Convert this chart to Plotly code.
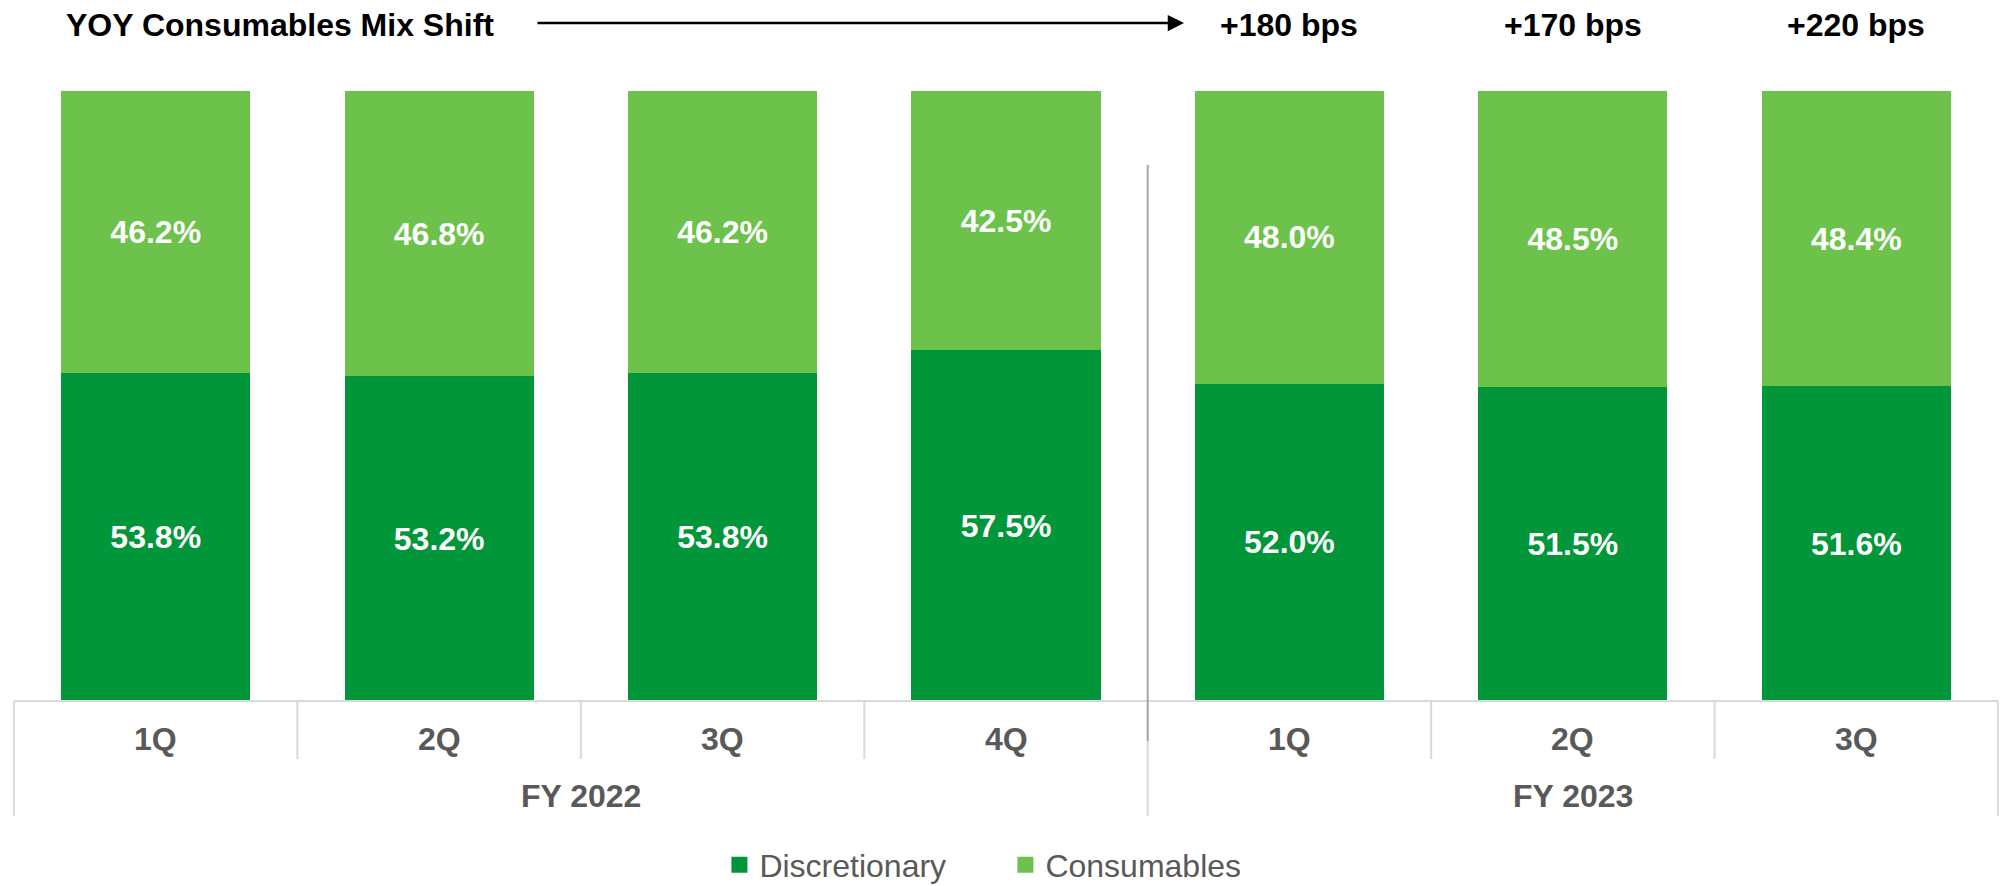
import plotly.graph_objects as go

quarters = ["1Q", "2Q", "3Q", "4Q", "1Q", "2Q", "3Q"]
years = ["FY 2022", "FY 2022", "FY 2022", "FY 2022", "FY 2023", "FY 2023", "FY 2023"]
discretionary = [53.8, 53.2, 53.8, 57.5, 52.0, 51.5, 51.6]
consumables = [46.2, 46.8, 46.2, 42.5, 48.0, 48.5, 48.4]
mix_shift = ["", "", "", "", "+180 bps", "+170 bps", "+220 bps"]
title_text = "YOY Consumables Mix Shift"

cats = [f"{q} {y}" for q, y in zip(quarters, years)]
n = len(cats)

DARK = "#009639"
LIGHT = "#6CC24A"
GRAY_TXT = "#595959"
AXIS = "#D9D9D9"
FONT = "Liberation Sans, Arial, sans-serif"
FS = 32

fig = go.Figure()
for name, vals, col in [("Discretionary", discretionary, DARK), ("Consumables", consumables, LIGHT)]:
    fig.add_trace(go.Bar(
        x=cats, y=vals, name=name, marker=dict(color=col, line=dict(width=0)),
        text=[f"{v:.1f}%" for v in vals], textposition="inside", insidetextanchor="middle",
        textfont=dict(color="white", size=FS, family=FONT, weight="bold"), textangle=0,
        hoverinfo="skip", showlegend=False))
# legend entries (square swatches)
for name, col in [("Discretionary", DARK), ("Consumables", LIGHT)]:
    fig.add_trace(go.Scatter(x=[None], y=[None], mode="markers", name=name,
                             marker=dict(symbol="square", size=16, color=col),
                             hoverinfo="skip", showlegend=True))

H_PLOT = 610.0
def py(p):
    # pixel row -> paper y
    return (701.0 - p) / H_PLOT

shapes = []
shapes.append(dict(type="line", xref="paper", yref="paper", x0=0, x1=1, y0=0, y1=0,
                   line=dict(color=AXIS, width=2)))
for k in range(n + 1):
    is_group = k == 0 or k == n or (0 < k < n and years[k] != years[k - 1])
    y_end = py(816) if is_group else py(759)
    shapes.append(dict(type="line", xref="paper", yref="paper", x0=k / n, x1=k / n,
                       y0=0, y1=y_end, line=dict(color=AXIS, width=2)))
for k in range(1, n):
    if years[k] != years[k - 1]:
        shapes.append(dict(type="line", xref="paper", yref="paper", x0=k / n, x1=k / n,
                           y0=py(741), y1=py(165), line=dict(color="#A6A6A6", width=2)))

annotations = []
for c, q in zip(cats, quarters):
    annotations.append(dict(x=c, xref="x", y=py(739), yref="paper", text=f"<b>{q}</b>",
                            showarrow=False, font=dict(size=FS, color=GRAY_TXT, family=FONT),
                            xanchor="center", yanchor="middle"))
groups = []
for i, y in enumerate(years):
    if not groups or groups[-1][0] != y:
        groups.append([y, i, i])
    else:
        groups[-1][2] = i
for g, a, b in groups:
    annotations.append(dict(x=(a + b) / 2.0, xref="x", y=py(796), yref="paper", text=f"<b>{g}</b>",
                            showarrow=False, font=dict(size=FS, color=GRAY_TXT, family=FONT),
                            xanchor="center", yanchor="middle"))
for c, t in zip(cats, mix_shift):
    if t:
        annotations.append(dict(x=c, xref="x", y=py(25), yref="paper", text=f"<b>{t}</b>",
                                showarrow=False, font=dict(size=FS, color="black", family=FONT),
                                xanchor="center", yanchor="middle"))
annotations.append(dict(x=(64 - 14) / 1984.0, xref="paper", y=py(25), yref="paper",
                        text=f"<b>{title_text}</b>", showarrow=False,
                        font=dict(size=FS, color="black", family=FONT),
                        xanchor="left", yanchor="middle"))
annotations.append(dict(x=(1184 - 14) / 1984.0, xref="paper", y=py(23), yref="paper",
                        ax=-648, ay=0, text="", showarrow=True, arrowhead=2, arrowsize=1.3,
                        arrowwidth=2.5, arrowcolor="black", standoff=0))

fig.update_layout(
    barmode="stack",
    bargap=0.333,
    width=2000, height=886,
    margin=dict(l=14, r=2, t=91, b=185, pad=0, autoexpand=False),
    paper_bgcolor="white", plot_bgcolor="white",
    xaxis=dict(type="category", range=[-0.5, n - 0.5], showticklabels=False, showgrid=False,
               zeroline=False, showline=False, ticks="", fixedrange=True),
    yaxis=dict(range=[0, 100], visible=False, fixedrange=True),
    showlegend=True,
    legend=dict(orientation="h", x=0.4997, xanchor="center", y=py(865), yanchor="middle",
                font=dict(size=FS, color=GRAY_TXT, family=FONT), traceorder="normal",
                entrywidth=241, entrywidthmode="pixels", bgcolor="rgba(0,0,0,0)"),
    shapes=shapes,
    annotations=annotations,
    uniformtext=dict(minsize=FS, mode="show"),
)

fig.write_html("out.html")
